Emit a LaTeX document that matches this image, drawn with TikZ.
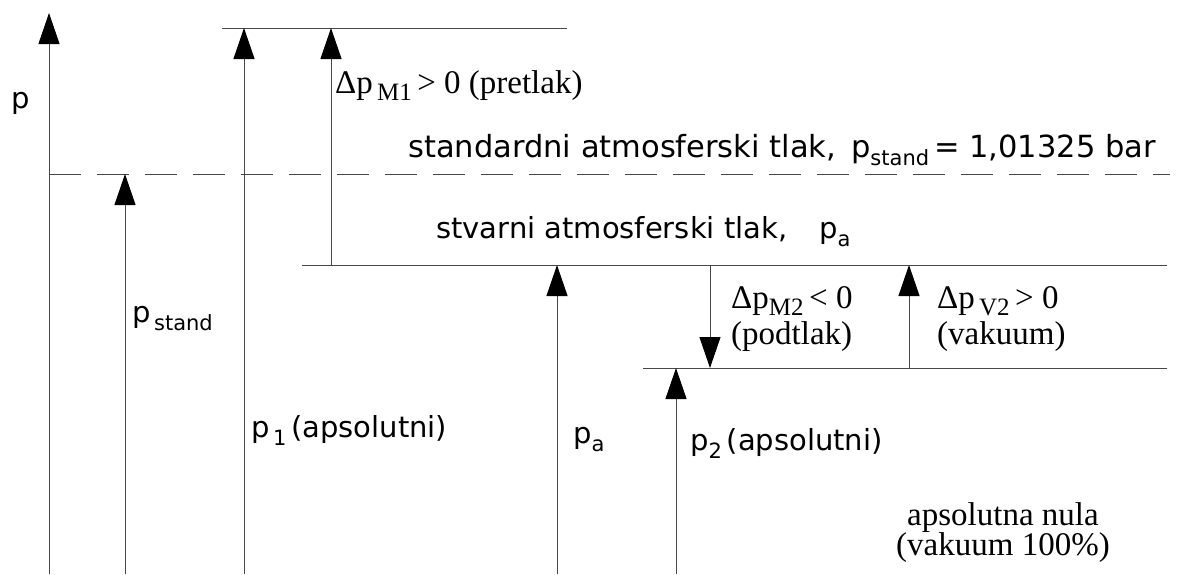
\documentclass[tikz,border=0pt]{standalone}
\usepackage{fontspec}
\setmainfont{Liberation Serif}
\setsansfont{DejaVu Sans}
\usetikzlibrary{arrows.meta,calc}
\newcommand\lsub[1]{\raisebox{-0.28em}{\fontsize{21}{21}\selectfont #1}}
\newcommand\rsub[1]{\raisebox{-0.22em}{\fontsize{25}{25}\selectfont #1}}
\tikzset{%
  level/.style     = {draw=black!72, line width=1pt},%
  stdlevel/.style  = {level, dash pattern=on 32pt off 16pt},%
  parrow/.style    = {level, -{Triangle[length=31pt,width=21pt,color=black]}},%
  sanslabel/.style = {font=\sffamily\fontsize{29}{33}\selectfont,%
                      inner sep=0pt, anchor=base west},%
  seriflabel/.style= {font=\rmfamily\fontsize{33}{36}\selectfont,%
                      inner sep=0pt, anchor=base west, align=left}%
}
\begin{document}
\begin{tikzpicture}[x=1pt, y=-1pt]
	\useasboundingbox (0,0) rectangle (1187,574);
	% pressure levels
	\coordinate (p1L) at (222,28);   \coordinate (p1R) at (567,28);
	\coordinate (stL) at (49,174);   \coordinate (stR) at (1170,174);
	\coordinate (paL) at (302,265);  \coordinate (paR) at (1167,265);
	\coordinate (p2L) at (643,368);  \coordinate (p2R) at (1167,368);
	\draw[level] (p1L) -- (p1R);
	\draw[stdlevel] (stL) -- (stR);
	\draw[level] (paL) -- (paR);
	\draw[level] (p2L) -- (p2R);
	% absolute pressures, from zero
	\draw[parrow] (49,574) -- (49,13);
	\draw[parrow] (125,574) -- (125,174);
	\draw[parrow] (244,574) -- (244,28);
	\draw[parrow] (557,574) -- (557,265);
	\draw[parrow] (676,574) -- (676,368);
	% gauge pressures
	\draw[parrow] (331,265) -- (331,28);
	\draw[parrow] (710,265) -- (710,368);
	\draw[parrow] (909,368) -- (909,265);
	% labels (multi-line nodes sit on their last line)
	\node[sanslabel] (p)      at (11,108)  {p};
	\node[sanslabel, font=\sffamily\fontsize{30.5}{34}\selectfont]
		(stand) at (408,157) {standardni atmosferski tlak,\hspace{15pt}p\lsub{stand}\,= 1,01325 bar};
	\node[sanslabel] (stvar)  at (436,238) {stvarni atmosferski tlak,\hspace{32pt}p\lsub{a}};
	\node[sanslabel] (pstand) at (132,322) {p\lsub{\,stand}};
	\node[sanslabel] (pone)   at (251,437) {p\lsub{\,1}\,(apsolutni)};
	\node[sanslabel] (pa)     at (573,443) {p\lsub{a}};
	\node[sanslabel] (ptwo)   at (690,450) {p\lsub{2}\,(apsolutni)};
	\node[seriflabel] (dM1)   at (335,93)  {Δp\rsub{\,M1}\,> 0 (pretlak)};
	\node[seriflabel] (dM2)   at (731,344) {Δp\rsub{M2}\,< 0\\(podtlak)};
	\node[seriflabel] (dV2)   at (937,344) {Δp\rsub{\,V2}\,> 0\\(vakuum)};
	\node[seriflabel, anchor=base, align=center, font=\rmfamily\fontsize{33}{30}\selectfont]
		(nula) at (1003,555) {apsolutna nula\\(vakuum 100\%)};
\end{tikzpicture}
\end{document}
